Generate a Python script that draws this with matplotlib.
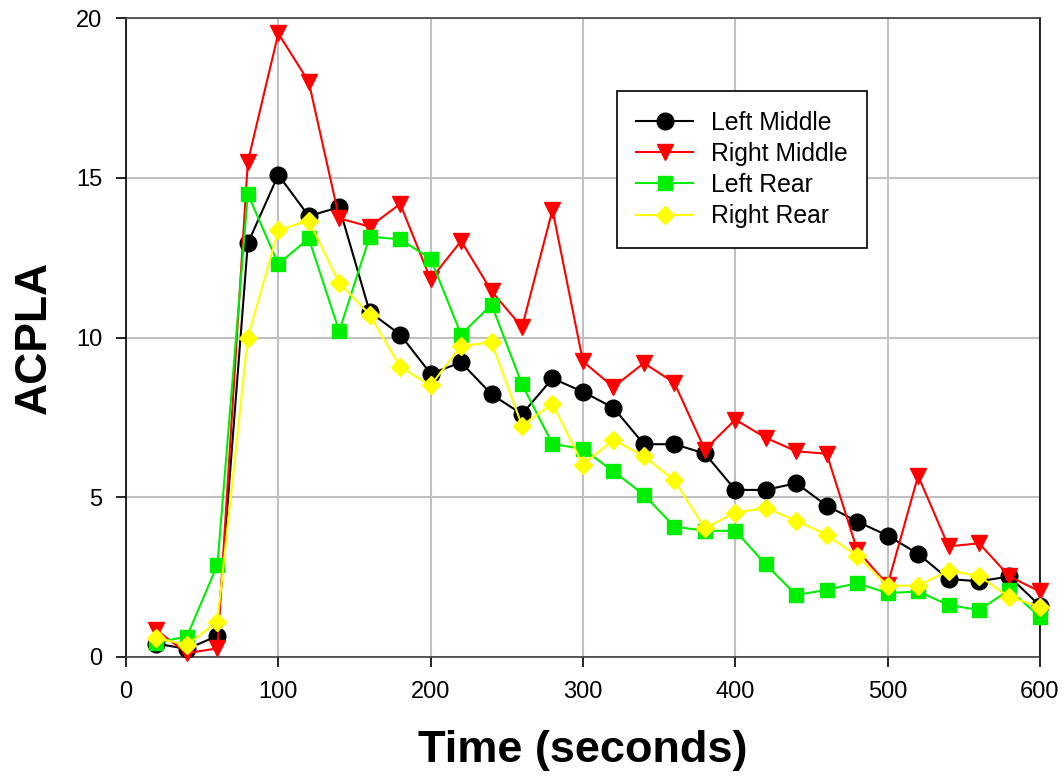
import matplotlib
matplotlib.use("Agg")
import matplotlib.pyplot as plt

plt.rcParams['font.family'] = ['Liberation Sans', 'DejaVu Sans']

time = [20, 40, 60, 80, 100, 120, 140, 160, 180, 200, 220, 240, 260, 280, 300,
        320, 340, 360, 380, 400, 420, 440, 460, 480, 500, 520, 540, 560, 580, 600]

left_middle = [0.42, 0.25, 0.66, 12.95, 15.09, 13.8, 14.08, 10.8, 10.09, 8.87,
               9.22, 8.22, 7.6, 8.72, 8.3, 7.8, 6.66, 6.66, 6.37, 5.23,
               5.23, 5.44, 4.74, 4.24, 3.8, 3.23, 2.44, 2.37, 2.52, 1.6]
right_middle = [0.84, 0.12, 0.27, 15.5, 19.52, 18.0, 13.73, 13.47, 14.18, 11.82,
                13.02, 11.45, 10.32, 14.0, 9.25, 8.45, 9.2, 8.58, 6.49, 7.43,
                6.86, 6.44, 6.36, 3.35, 2.26, 5.67, 3.46, 3.56, 2.52, 2.05]
left_rear = [0.45, 0.64, 2.88, 14.49, 12.3, 13.1, 10.2, 13.16, 13.07, 12.47,
             10.09, 11.03, 8.53, 6.67, 6.51, 5.81, 5.08, 4.08, 3.95, 3.95,
             2.9, 1.94, 2.1, 2.31, 2.0, 2.05, 1.63, 1.47, 2.1, 1.26]
right_rear = [0.59, 0.38, 1.1, 10.0, 13.36, 13.66, 11.71, 10.72, 9.08, 8.5,
              9.73, 9.85, 7.24, 7.93, 6.02, 6.8, 6.28, 5.53, 4.03, 4.52,
              4.66, 4.27, 3.82, 3.17, 2.23, 2.23, 2.7, 2.54, 1.87, 1.58]

fig = plt.figure(figsize=(10.64, 7.8), dpi=100)
ax = fig.add_axes([0.1184, 0.1577, 0.859, 0.8192])

common = dict(lw=1.5, zorder=3, clip_on=False)
ax.plot(time, left_middle, color='black', marker='o', markersize=12,
        label='Left Middle', **common)
ax.plot(time, right_middle, color='#ff0000', marker='v', markersize=12,
        label='Right Middle', **common)
ax.plot(time, left_rear, color='#00ee00', marker='s', markersize=10.5,
        label='Left Rear', **common)
ax.plot(time, right_rear, color='#ffff00', marker='D', markersize=9,
        label='Right Rear', **common)

ax.set_xlim(0, 600)
ax.set_ylim(0, 20)
ax.set_xticks(range(0, 601, 100))
ax.set_yticks(range(0, 21, 5))
ax.grid(True, color='#c0c0c0', lw=1.5, zorder=0)
ax.set_axisbelow(True)
ax.tick_params(labelsize=17, direction='out', length=7, width=1.2,
               pad=10, top=False, right=False)
for s in ax.spines.values():
    s.set_linewidth(1.2)
ax.spines['top'].set_color('#404040')
ax.spines['bottom'].set_color('#404040')

ax.set_xlabel('Time (seconds)', fontsize=32.5, fontweight='bold', labelpad=20)
ax.set_ylabel('ACPLA', fontsize=32, fontweight='bold', labelpad=15)

leg = ax.legend(loc='upper left', bbox_to_anchor=(0.5796, 0.8833),
                bbox_transform=fig.transFigure, fontsize=17.8, frameon=True,
                fancybox=False, edgecolor='black', framealpha=1,
                borderpad=0.8, handlelength=2.3, handletextpad=0.7,
                labelspacing=0.29, borderaxespad=0)
leg.get_frame().set_linewidth(1.2)

fig.savefig('out.png', dpi=100)
